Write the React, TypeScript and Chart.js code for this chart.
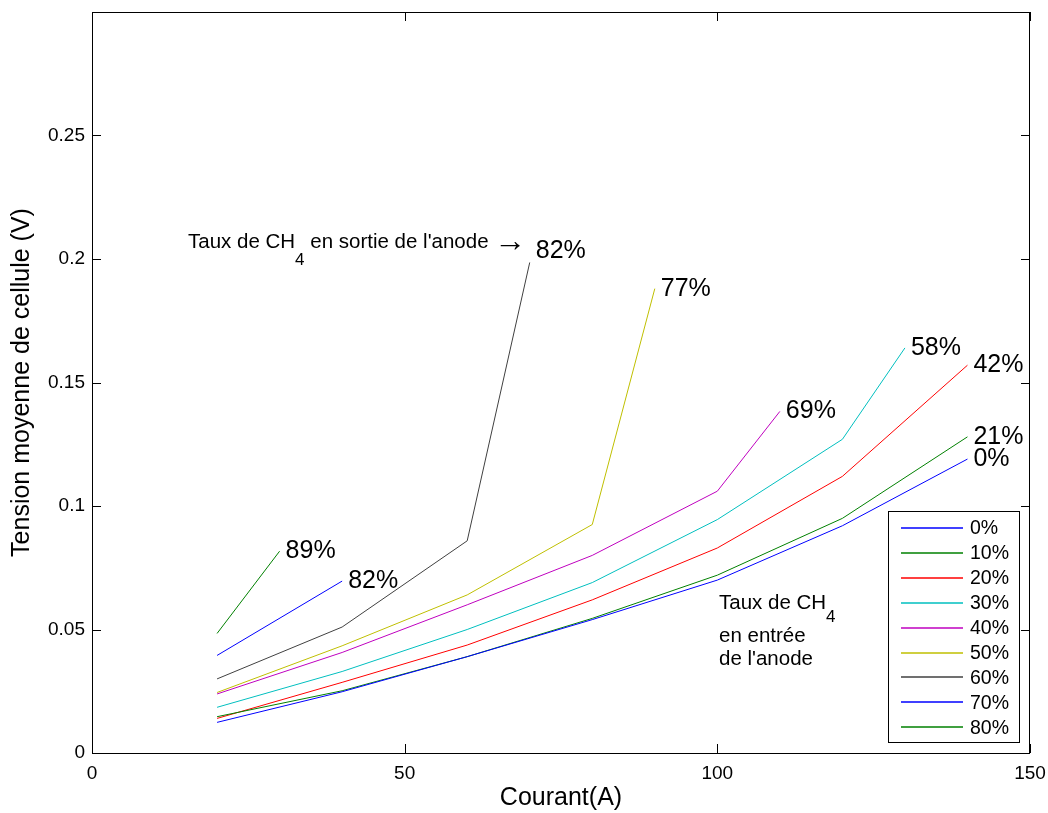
import React, { useEffect, useRef } from 'react';
import { Chart, registerables } from 'chart.js';

Chart.register(...registerables);

// Current (A) for each series
const xFull = [20, 40, 60, 80, 100, 120, 140];
const xTo130 = [20, 40, 60, 80, 100, 120, 130];
const xTo110 = [20, 40, 60, 80, 100, 110];
const xTo90 = [20, 40, 60, 80, 90];
const xTo70 = [20, 40, 60, 70];
const xTo40 = [20, 40];
const xTo30 = [20, 30];

// Mean cell voltage (V)
const v0 = [0.0124, 0.0248, 0.039, 0.054, 0.070, 0.092, 0.119];
const v10 = [0.0147, 0.0252, 0.039, 0.0545, 0.072, 0.095, 0.128];
const v20 = [0.014, 0.0286, 0.0437, 0.062, 0.083, 0.112, 0.157];
const v30 = [0.0185, 0.033, 0.050, 0.069, 0.0945, 0.127, 0.164];
const v40 = [0.0239, 0.0407, 0.060, 0.080, 0.106, 0.1383];
const v50 = [0.0245, 0.0434, 0.064, 0.0925, 0.188];
const v60 = [0.030, 0.051, 0.0859, 0.1986];
const v70 = [0.0395, 0.0696];
const v80 = [0.0484, 0.0817];

const seriesLabels = ['0%', '10%', '20%', '30%', '40%', '50%', '60%', '70%', '80%'];
const endLabels = ['0%', '21%', '42%', '58%', '69%', '77%', '82%', '82%', '89%'];
const colors = ['#0000ff', '#008000', '#ff0000', '#00bfbf', '#bf00bf', '#bfbf00', '#404040', '#0000ff', '#008000'];

const xTicks = [0, 50, 100, 150];
const yTicks = [0, 0.05, 0.1, 0.15, 0.2, 0.25];

const xSets = [xFull, xFull, xFull, xTo130, xTo110, xTo90, xTo70, xTo40, xTo30];
const ySets = [v0, v10, v20, v30, v40, v50, v60, v70, v80];

const FONT = '"Liberation Sans", Arial, Helvetica, sans-serif';

const overlayPlugin = {
  id: 'overlay',
  afterDraw(chart: any) {
    const ctx = chart.ctx as CanvasRenderingContext2D;
    const { left, right, top, bottom } = chart.chartArea;
    const xs = chart.scales.x;
    const ys = chart.scales.y;
    ctx.save();
    // frame
    ctx.strokeStyle = '#000';
    ctx.lineWidth = 1;
    ctx.strokeRect(Math.round(left) + 0.5, Math.round(top) + 0.5, Math.round(right - left) - 1, Math.round(bottom - top));
    // inner ticks on all four sides
    const tl = 9;
    ctx.beginPath();
    xTicks.forEach((v) => {
      const px = Math.round(xs.getPixelForValue(v)) + 0.5;
      ctx.moveTo(px, bottom);
      ctx.lineTo(px, bottom - tl);
      ctx.moveTo(px, top);
      ctx.lineTo(px, top + tl);
    });
    yTicks.forEach((v) => {
      const py = Math.round(ys.getPixelForValue(v)) + 0.5;
      ctx.moveTo(left, py);
      ctx.lineTo(left + tl, py);
      ctx.moveTo(right, py);
      ctx.lineTo(right - tl, py);
    });
    ctx.stroke();

    // end labels
    ctx.fillStyle = '#000';
    ctx.font = `25px ${FONT}`;
    ctx.textBaseline = 'middle';
    ctx.textAlign = 'left';
    chart.data.datasets.forEach((ds: any, i: number) => {
      const last = ds.data[ds.data.length - 1];
      const px = xs.getPixelForValue(last.x);
      const py = ys.getPixelForValue(last.y);
      const dy = i === 6 ? -11 : 0;
      ctx.fillText(endLabels[i], px + 6, py + dy);
    });

    // annotation: outlet
    ctx.textBaseline = 'alphabetic';
    ctx.font = `20.5px ${FONT}`;
    let ax = 188;
    const ab = 248;
    ctx.fillText('Taux de CH', ax, ab);
    ax += ctx.measureText('Taux de CH').width;
    ctx.font = `17px ${FONT}`;
    ctx.fillText('4', ax, ab + 17);
    ax += ctx.measureText('4').width;
    ctx.font = `20.5px ${FONT}`;
    ctx.fillText(" en sortie de l'anode", ax, ab);
    ctx.font = `32px ${FONT}`;
    ctx.fillText('\u2192', 494, ab + 3);

    // annotation: inlet
    ctx.font = `20.5px ${FONT}`;
    let bx = 719;
    ctx.fillText('Taux de CH', bx, 609);
    bx += ctx.measureText('Taux de CH').width;
    ctx.font = `17px ${FONT}`;
    ctx.fillText('4', bx, 622);
    ctx.font = `20.5px ${FONT}`;
    ctx.fillText('en entr\u00e9e', 719, 642);
    ctx.fillText("de l'anode", 719, 665);

    // legend box
    const lx0 = 888, ly0 = 511, lx1 = 1019, ly1 = 742;
    ctx.fillStyle = '#fff';
    ctx.fillRect(lx0, ly0, lx1 - lx0, ly1 - ly0);
    ctx.strokeStyle = '#000';
    ctx.lineWidth = 1;
    ctx.strokeRect(lx0 + 0.5, ly0 + 0.5, lx1 - lx0, ly1 - ly0);
    ctx.font = `19.5px ${FONT}`;
    ctx.textBaseline = 'middle';
    chart.data.datasets.forEach((ds: any, i: number) => {
      const cy = 528 + i * 24.9;
      ctx.strokeStyle = ds.borderColor;
      ctx.lineWidth = 1.5;
      ctx.beginPath();
      ctx.moveTo(901, Math.round(cy));
      ctx.lineTo(963, Math.round(cy));
      ctx.stroke();
      ctx.fillStyle = '#000';
      ctx.fillText(ds.label, 970, cy + 1);
    });
    ctx.restore();
  },
};

export default function App() {
  const ref = useRef<HTMLCanvasElement | null>(null);
  useEffect(() => {
    if (!ref.current) return;
    const datasets = seriesLabels.map((label, i) => ({
      label,
      data: xSets[i].map((x, j) => ({ x, y: ySets[i][j] })),
      borderColor: colors[i],
      backgroundColor: colors[i],
      borderWidth: 1,
      pointRadius: 0,
      fill: false,
      tension: 0,
    }));
    const chart = new Chart(ref.current, {
      type: 'line',
      data: { datasets },
      options: {
        animation: false,
        responsive: false,
        maintainAspectRatio: false,
        layout: { padding: { top: 12, right: 18, left: 0, bottom: 0 } },
        plugins: { legend: { display: false }, tooltip: { enabled: false } },
        scales: {
          x: {
            type: 'linear',
            min: 0,
            max: 150,
            afterBuildTicks: (s: any) => {
              s.ticks = xTicks.map((v) => ({ value: v }));
            },
            afterFit: (s: any) => {
              s.height = 60;
              s.paddingLeft = 0;
              s.paddingRight = 0;
            },
            grid: { display: false, drawTicks: false },
            border: { display: false },
            ticks: {
              color: '#000',
              font: { family: FONT, size: 19 },
              padding: 9,
              maxRotation: 0,
              callback: (v: any) => String(v),
            },
            title: {
              display: true,
              text: 'Courant(A)',
              color: '#000',
              font: { family: FONT, size: 25 },
              padding: { top: 0, bottom: 0 },
            },
          },
          y: {
            type: 'linear',
            min: 0,
            max: 0.3,
            afterBuildTicks: (s: any) => {
              s.ticks = yTicks.map((v) => ({ value: v }));
            },
            afterFit: (s: any) => {
              s.width = 92;
              s.paddingTop = 0;
              s.paddingBottom = 0;
            },
            grid: { display: false, drawTicks: false },
            border: { display: false },
            ticks: {
              color: '#000',
              font: { family: FONT, size: 19 },
              padding: 7,
              callback: (v: any) => String(Math.round(Number(v) * 100) / 100),
            },
            title: {
              display: true,
              text: 'Tension moyenne de cellule (V)',
              color: '#000',
              font: { family: FONT, size: 25 },
              padding: { top: 7.5, bottom: 0 },
            },
          },
        },
      },
      plugins: [overlayPlugin],
    });
    return () => chart.destroy();
  }, []);
  return (
    <div style={{ position: 'absolute', left: 0, top: 0, width: 1048, height: 813, background: '#fff' }}>
      <canvas ref={ref} width={1048} height={813} style={{ display: 'block', width: 1048, height: 813 }} />
    </div>
  );
}
